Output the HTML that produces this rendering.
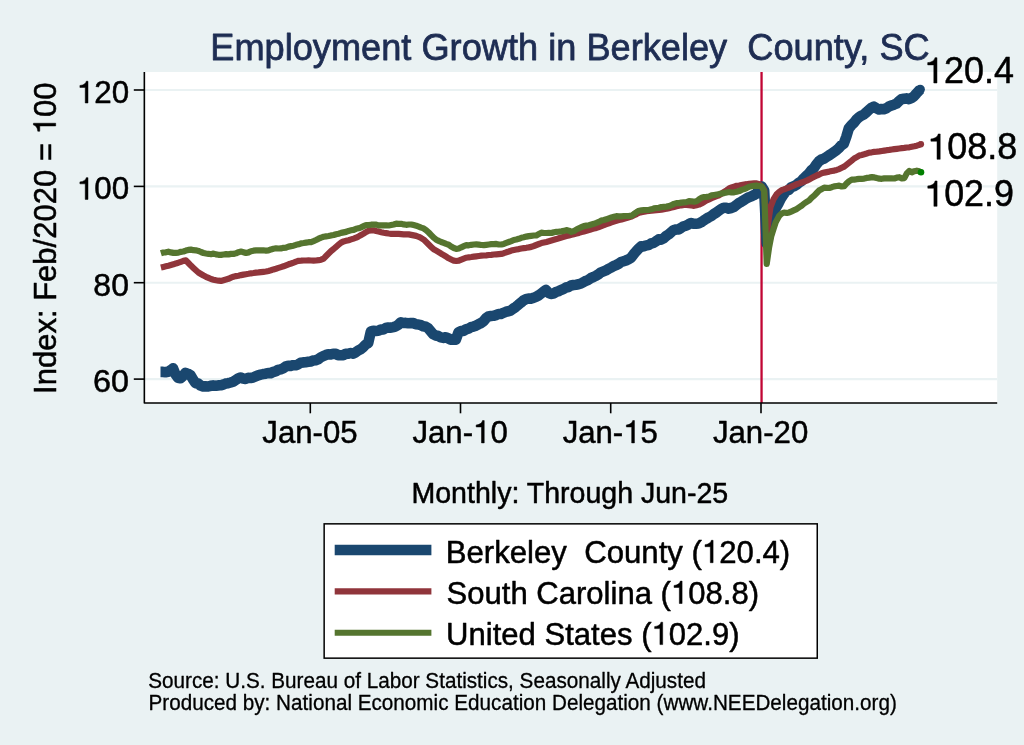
<!DOCTYPE html>
<html><head><meta charset="utf-8"><title>Employment Growth in Berkeley County, SC</title>
<style>
html,body{margin:0;padding:0;background:#eaf2f3;}
svg{display:block;will-change:transform}
text{font-family:"Liberation Sans",sans-serif;fill:#000;stroke:#000;stroke-width:0.5px;stroke-linejoin:round;white-space:pre}
.h{fill:none;stroke:none}
.o{fill:#000;stroke:#000;stroke-width:0.5px;stroke-linejoin:round}
</style></head><body>
<svg width="1024" height="745" viewBox="0 0 1024 745">
<rect x="0" y="0" width="1024" height="745" fill="#eaf2f3"/>
<!-- plot region -->
<rect x="145" y="72" width="852.2" height="331" fill="#ffffff"/>
<!-- gridlines -->
<g stroke="#eaf2f3" stroke-width="2.1">
<line x1="145" x2="997.2" y1="90.0" y2="90.0"/>
<line x1="145" x2="997.2" y1="186.4" y2="186.4"/>
<line x1="145" x2="997.2" y1="282.7" y2="282.7"/>
<line x1="145" x2="997.2" y1="379.1" y2="379.1"/>
</g>
<!-- xline -->
<line x1="761.55" x2="761.55" y1="72" y2="403" stroke="#c10534" stroke-width="2.3"/>
<!-- series -->
<polyline fill="none" stroke="#1a476f" stroke-width="10.6" stroke-linejoin="round" stroke-linecap="butt" points="160.5,371.9 163.0,371.9 165.5,372.3 168.0,371.8 170.5,370.3 173.0,368.3 175.5,374.4 178.0,377.7 180.5,378.2 183.0,376.0 185.5,372.8 188.0,373.8 190.5,375.1 193.0,379.4 195.5,383.2 198.0,383.5 200.5,385.5 203.1,386.4 205.6,386.4 208.1,386.5 210.6,385.8 213.1,385.4 215.6,385.8 218.1,385.4 220.6,385.3 223.1,384.6 225.6,383.6 228.1,383.2 230.6,382.5 233.1,381.7 235.6,380.1 238.1,378.5 240.6,377.6 243.1,378.5 245.6,378.9 248.1,377.9 250.6,378.0 253.1,377.5 255.6,376.4 258.1,375.3 260.6,374.6 263.1,374.1 265.6,373.7 268.1,373.0 270.6,373.3 273.1,372.0 275.6,371.4 278.1,369.9 280.6,369.3 283.1,368.3 285.6,366.6 288.2,365.7 290.7,365.9 293.2,365.2 295.7,365.3 298.2,364.3 300.7,362.8 303.2,362.4 305.7,362.2 308.2,361.8 310.7,361.4 313.2,360.5 315.7,360.2 318.2,359.3 320.7,357.4 323.2,356.1 325.7,355.1 328.2,354.2 330.7,354.5 333.2,353.7 335.7,353.9 338.2,355.1 340.7,355.2 343.2,355.1 345.7,353.9 348.2,353.8 350.7,353.0 353.2,353.7 355.7,352.3 358.2,350.5 360.7,349.3 363.2,347.2 365.7,344.5 368.2,343.1 370.8,331.6 373.3,330.7 375.8,331.0 378.3,330.8 380.8,329.6 383.3,329.5 385.8,328.0 388.3,327.5 390.8,327.7 393.3,327.1 395.8,326.4 398.3,324.8 400.8,322.3 403.3,323.0 405.8,322.9 408.3,323.2 410.8,323.0 413.3,323.1 415.8,324.3 418.3,324.5 420.8,325.2 423.3,326.3 425.8,326.8 428.3,328.3 430.8,331.3 433.3,334.3 435.8,335.5 438.3,336.0 440.8,337.4 443.3,337.9 445.8,337.2 448.3,338.4 450.8,339.6 453.4,339.8 455.9,339.6 458.4,332.4 460.9,331.0 463.4,330.9 465.9,329.4 468.4,328.7 470.9,327.2 473.4,326.6 475.9,325.7 478.4,324.3 480.9,323.1 483.4,321.4 485.9,318.3 488.4,316.4 490.9,316.0 493.4,315.8 495.9,315.1 498.4,314.0 500.9,314.0 503.4,312.8 505.9,311.8 508.4,311.3 510.9,310.4 513.4,308.5 515.9,306.8 518.4,304.7 520.9,302.7 523.4,300.5 525.9,299.2 528.4,298.6 530.9,298.6 533.4,297.9 535.9,296.9 538.5,295.5 541.0,293.6 543.5,291.7 546.0,290.0 548.5,292.8 551.0,293.9 553.5,293.6 556.0,292.0 558.5,291.2 561.0,289.9 563.5,289.0 566.0,287.5 568.5,287.0 571.0,285.5 573.5,285.0 576.0,284.7 578.5,284.3 581.0,283.5 583.5,282.1 586.0,280.8 588.5,279.8 591.0,278.0 593.5,277.0 596.0,275.8 598.5,274.2 601.0,272.3 603.5,271.3 606.0,270.3 608.5,268.9 611.0,267.6 613.5,266.2 616.0,265.1 618.5,263.9 621.1,262.0 623.6,261.2 626.1,260.4 628.6,259.2 631.1,257.7 633.6,254.3 636.1,251.4 638.6,248.7 641.1,246.4 643.6,246.5 646.1,245.4 648.6,245.1 651.1,243.5 653.6,242.9 656.1,241.3 658.6,239.4 661.1,239.6 663.6,238.3 666.1,236.0 668.6,234.4 671.1,232.2 673.6,230.1 676.1,229.5 678.6,229.4 681.1,227.9 683.6,226.3 686.1,225.7 688.6,224.3 691.1,223.0 693.6,223.8 696.1,223.7 698.6,223.5 701.1,222.3 703.7,220.5 706.2,218.9 708.7,217.4 711.2,216.1 713.7,214.1 716.2,212.6 718.7,210.8 721.2,209.0 723.7,207.8 726.2,207.8 728.7,208.6 731.2,208.0 733.7,207.1 736.2,205.1 738.7,203.2 741.2,201.8 743.7,200.2 746.2,198.6 748.7,197.3 751.2,196.3 753.7,195.2 756.2,193.9 759.2,189.5 761.7,186.5 764.2,190.5 766.7,243.5 769.2,233.0 772.2,221.0 775.7,208.0 776.2,207.3 778.7,203.0 781.2,198.0 783.7,194.3 786.3,191.0 788.8,189.9 791.3,187.2 793.8,186.3 796.3,184.9 798.8,182.7 801.3,181.2 803.8,178.3 806.3,176.0 808.8,173.7 811.3,170.3 813.8,168.2 816.3,164.6 818.8,161.4 821.3,159.6 823.8,158.7 826.3,157.1 828.8,155.5 831.3,153.8 833.8,152.1 836.3,150.4 838.8,148.1 841.3,145.4 843.8,143.6 846.3,136.7 848.8,128.4 851.3,125.3 853.8,122.9 856.3,119.7 858.8,117.4 861.3,115.7 863.8,114.5 866.3,112.4 868.8,110.0 871.4,107.8 873.9,106.7 876.4,108.3 878.9,109.5 881.4,109.0 883.9,109.2 886.4,108.3 888.9,106.5 891.4,105.6 893.9,104.7 896.4,103.7 898.9,101.2 901.4,99.3 903.9,98.8 906.4,98.4 908.9,99.1 911.4,98.1 913.9,96.4 916.4,93.5 920.2,89.4"/>
<circle cx="920.2" cy="89.4" r="4.7" fill="#1a476f"/>
<polyline fill="none" stroke="#90353b" stroke-width="6.2" stroke-linejoin="round" stroke-linecap="butt" points="160.9,267.5 163.4,266.9 165.9,266.3 168.4,265.7 170.9,265.0 173.4,264.3 175.9,263.4 178.4,262.7 180.9,261.8 183.4,260.9 185.9,260.4 188.4,263.0 190.9,265.6 193.4,268.0 195.9,270.3 198.4,272.5 200.9,274.0 203.5,275.5 206.0,276.8 208.5,277.9 211.0,279.0 213.5,279.7 216.0,280.3 218.5,280.7 221.0,280.9 223.5,280.2 226.0,279.5 228.5,278.8 231.0,277.7 233.5,276.7 236.0,276.1 238.5,275.7 241.0,275.1 243.5,274.6 246.0,274.2 248.5,273.8 251.0,273.3 253.5,273.0 256.0,272.6 258.5,272.4 261.0,272.1 263.5,271.8 266.0,271.5 268.5,270.9 271.0,270.2 273.5,269.4 276.0,268.7 278.5,267.9 281.0,267.1 283.5,266.3 286.0,265.3 288.6,264.3 291.1,263.5 293.6,262.6 296.1,261.6 298.6,260.8 301.1,260.7 303.6,260.5 306.1,260.5 308.6,260.4 311.1,260.5 313.6,260.6 316.1,260.5 318.6,260.2 321.1,259.7 323.6,258.6 326.1,256.0 328.6,253.5 331.1,251.0 333.6,249.0 336.1,246.8 338.6,244.7 341.1,242.6 343.6,241.4 346.1,240.8 348.6,240.2 351.1,239.4 353.6,238.6 356.1,237.7 358.6,236.4 361.1,235.0 363.6,233.6 366.1,232.0 368.6,230.7 371.2,230.4 373.7,230.3 376.2,231.0 378.7,231.6 381.2,232.2 383.7,232.7 386.2,233.1 388.7,233.5 391.2,233.8 393.7,233.8 396.2,233.9 398.7,233.9 401.2,234.1 403.7,234.3 406.2,234.3 408.7,234.4 411.2,234.9 413.7,235.4 416.2,235.9 418.7,236.8 421.2,238.1 423.7,239.6 426.2,242.0 428.7,244.5 431.2,246.9 433.7,249.2 436.2,250.6 438.7,252.1 441.2,253.7 443.7,255.1 446.2,256.7 448.7,258.3 451.2,259.5 453.8,260.7 456.3,261.0 458.8,260.7 461.3,259.6 463.8,258.6 466.3,257.7 468.8,257.3 471.3,257.0 473.8,256.6 476.3,256.3 478.8,256.0 481.3,255.7 483.8,255.5 486.3,255.3 488.8,255.0 491.3,254.8 493.8,254.5 496.3,254.3 498.8,254.1 501.3,253.9 503.8,253.2 506.3,252.3 508.8,251.5 511.3,250.6 513.8,250.0 516.3,249.5 518.8,249.1 521.3,248.5 523.8,248.1 526.3,247.8 528.8,247.4 531.3,246.9 533.8,246.0 536.3,245.0 538.9,244.0 541.4,243.1 543.9,242.5 546.4,241.9 548.9,241.2 551.4,240.5 553.9,239.8 556.4,239.1 558.9,238.3 561.4,237.5 563.9,236.8 566.4,236.1 568.9,235.5 571.4,234.8 573.9,234.2 576.4,233.6 578.9,232.9 581.4,232.1 583.9,231.4 586.4,230.7 588.9,230.0 591.4,229.2 593.9,228.6 596.4,227.9 598.9,227.0 601.4,226.1 603.9,225.2 606.4,224.2 608.9,223.3 611.4,222.3 613.9,221.5 616.4,220.8 618.9,220.1 621.5,219.5 624.0,218.8 626.5,218.1 629.0,217.3 631.5,216.6 634.0,215.3 636.5,214.1 639.0,212.8 641.5,212.2 644.0,211.8 646.5,211.2 649.0,210.9 651.5,210.6 654.0,210.3 656.5,210.1 659.0,209.9 661.5,209.6 664.0,209.2 666.5,208.8 669.0,208.2 671.5,207.6 674.0,206.9 676.5,206.2 679.0,205.7 681.5,205.3 684.0,205.0 686.5,204.8 689.0,205.1 691.5,205.5 694.0,205.8 696.5,205.2 699.0,204.6 701.5,203.4 704.1,202.0 706.6,200.4 709.1,199.3 711.6,198.2 714.1,197.2 716.6,196.2 719.1,195.3 721.6,193.6 724.1,191.9 726.6,190.3 729.1,188.5 731.6,187.5 734.1,186.6 736.6,185.8 739.1,185.5 741.6,185.0 744.1,184.5 746.6,184.2 749.1,183.8 751.6,183.6 754.1,183.4 756.6,183.4 759.2,184.2 761.7,186.5 764.2,190.0 766.7,234.5 768.6,220.0 770.5,207.1 773.6,199.2 776.6,194.3 779.1,192.0 781.6,190.2 784.1,189.3 786.7,188.3 789.2,187.5 791.7,186.4 794.2,185.3 796.7,184.2 799.2,183.4 801.7,182.5 804.2,181.6 806.7,180.6 809.2,179.4 811.7,178.1 814.2,176.8 816.7,175.5 819.2,174.5 821.7,173.3 824.2,172.6 826.7,172.1 829.2,171.6 831.7,171.0 834.2,170.6 836.7,169.9 839.2,169.1 841.7,167.8 844.2,166.6 846.7,164.6 849.2,162.6 851.7,160.6 854.2,158.5 856.7,157.1 859.2,155.6 861.7,155.0 864.2,154.3 866.7,153.5 869.2,152.6 871.8,152.3 874.3,151.9 876.8,151.7 879.3,151.4 881.8,151.0 884.3,150.6 886.8,150.2 889.3,149.9 891.8,149.5 894.3,149.1 896.8,148.8 899.3,148.5 901.8,148.2 904.3,147.9 906.8,147.5 909.3,147.3 911.8,146.8 914.3,146.3 916.8,145.7 919.3,144.8 921.0,144.2"/>
<circle cx="921.0" cy="144.2" r="3.1" fill="#90353b"/>
<polyline fill="none" stroke="#55752f" stroke-width="6.2" stroke-linejoin="round" stroke-linecap="butt" points="160.9,253.3 163.4,252.5 165.9,252.3 168.4,251.7 170.9,252.4 173.4,252.9 175.9,252.8 178.4,252.6 180.9,251.8 183.4,251.5 185.9,250.6 188.4,249.9 190.9,249.6 193.4,250.2 195.9,250.3 198.4,250.9 200.9,252.0 203.5,253.0 206.0,253.5 208.5,253.8 211.0,254.2 213.5,253.6 216.0,254.4 218.5,254.8 221.0,254.9 223.5,254.5 226.0,254.2 228.5,254.4 231.0,253.9 233.5,253.9 236.0,253.3 238.5,252.2 241.0,251.6 243.5,252.2 246.0,253.0 248.5,252.4 251.0,251.2 253.5,250.7 256.0,250.4 258.5,250.4 261.0,250.3 263.5,250.3 266.0,250.7 268.5,250.4 271.0,249.4 273.5,248.7 276.0,248.3 278.5,248.5 281.0,248.4 283.5,247.8 286.0,247.6 288.6,246.6 291.1,246.1 293.6,245.7 296.1,244.8 298.6,244.3 301.1,243.3 303.6,243.0 306.1,242.6 308.6,242.2 311.1,242.1 313.6,241.1 316.1,240.0 318.6,238.7 321.1,237.6 323.6,236.8 326.1,236.4 328.6,236.0 331.1,235.4 333.6,235.0 336.1,234.2 338.6,233.7 341.1,232.9 343.6,232.4 346.1,231.9 348.6,230.9 351.1,230.3 353.6,229.9 356.1,228.8 358.6,228.3 361.1,227.3 363.6,226.2 366.1,225.1 368.6,225.1 371.2,224.7 373.7,224.5 376.2,224.6 378.7,225.4 381.2,225.3 383.7,225.3 386.2,225.3 388.7,225.5 391.2,225.0 393.7,224.5 396.2,223.7 398.7,223.8 401.2,223.8 403.7,224.4 406.2,224.8 408.7,224.5 411.2,224.5 413.7,225.1 416.2,225.7 418.7,226.6 421.2,227.6 423.7,228.4 426.2,230.2 428.7,232.5 431.2,235.1 433.7,237.7 436.2,239.7 438.7,240.9 441.2,242.0 443.7,242.9 446.2,243.9 448.7,244.7 451.2,246.6 453.8,248.0 456.3,248.9 458.8,248.5 461.3,247.3 463.8,246.2 466.3,245.2 468.8,245.3 471.3,244.8 473.8,244.5 476.3,244.4 478.8,244.6 481.3,245.0 483.8,245.1 486.3,244.8 488.8,244.5 491.3,244.2 493.8,244.1 496.3,243.9 498.8,244.5 501.3,244.5 503.8,243.9 506.3,242.9 508.8,242.0 511.3,241.1 513.8,240.0 516.3,239.5 518.8,238.8 521.3,237.8 523.8,237.3 526.3,236.6 528.8,236.1 531.3,235.8 533.8,235.5 536.3,235.4 538.9,234.0 541.4,232.7 543.9,233.0 546.4,233.0 548.9,232.8 551.4,233.0 553.9,232.2 556.4,231.8 558.9,231.7 561.4,231.4 563.9,230.9 566.4,230.1 568.9,230.7 571.4,231.8 573.9,231.1 576.4,229.5 578.9,228.3 581.4,227.2 583.9,226.1 586.4,225.6 588.9,225.2 591.4,224.5 593.9,223.8 596.4,222.9 598.9,221.9 601.4,220.6 603.9,220.0 606.4,219.3 608.9,218.3 611.4,217.4 613.9,216.8 616.4,216.2 618.9,216.3 621.5,216.4 624.0,216.0 626.5,216.0 629.0,215.9 631.5,215.7 634.0,213.9 636.5,212.2 639.0,210.7 641.5,210.3 644.0,210.0 646.5,210.0 649.0,209.8 651.5,209.3 654.0,208.4 656.5,208.0 659.0,207.8 661.5,207.0 664.0,206.8 666.5,206.6 669.0,206.1 671.5,205.1 674.0,203.9 676.5,203.1 679.0,203.1 681.5,202.6 684.0,202.3 686.5,202.1 689.0,201.2 691.5,201.3 694.0,201.8 696.5,201.2 699.0,199.4 701.5,197.7 704.1,197.0 706.6,196.9 709.1,196.5 711.6,195.4 714.1,195.0 716.6,194.7 719.1,194.1 721.6,193.4 724.1,193.1 726.6,192.5 729.1,192.0 731.6,192.5 734.1,192.3 736.6,191.8 739.1,191.1 741.6,189.9 744.1,189.1 746.6,188.1 749.1,186.8 751.6,186.3 754.1,185.8 756.6,185.7 759.2,186.0 761.7,186.5 764.2,191.0 766.7,264.0 769.0,248.0 771.3,236.0 773.5,229.0 775.7,222.3 776.6,220.6 779.1,216.0 781.6,213.6 784.1,212.5 786.7,213.0 789.2,212.4 791.7,211.3 794.2,210.2 796.7,209.1 799.2,207.3 801.7,205.6 804.2,203.5 806.7,201.9 809.2,200.4 811.7,197.7 814.2,195.6 816.7,193.0 819.2,190.3 821.7,189.2 824.2,187.7 826.7,187.8 829.2,188.0 831.7,187.2 834.2,186.3 836.7,186.0 839.2,185.7 841.7,186.5 844.2,186.2 846.7,183.3 849.2,181.1 851.7,179.7 854.2,179.6 856.7,179.2 859.2,178.9 861.7,178.8 864.2,178.6 866.7,177.9 869.2,177.6 871.8,177.1 874.3,177.4 876.8,178.1 879.3,178.7 881.8,178.8 884.3,178.4 886.8,178.4 889.3,178.3 891.8,178.4 894.3,178.5 896.8,177.6 899.3,177.2 901.8,178.4 904.3,178.1 906.8,173.4 909.3,170.9 911.8,172.3 914.3,171.2 916.8,170.7 919.3,171.3 921.0,172.3"/>
<circle cx="921.0" cy="172.2" r="3.3" fill="#008000"/>
<!-- axes -->
<g stroke="#000" stroke-width="1.6" fill="none" stroke-linejoin="round">
<polyline points="144.35,72 144.35,403.05 997.2,403.05"/>
<line x1="133.8" x2="144.35" y1="90.0" y2="90.0"/>
<line x1="133.8" x2="144.35" y1="186.4" y2="186.4"/>
<line x1="133.8" x2="144.35" y1="282.7" y2="282.7"/>
<line x1="133.8" x2="144.35" y1="379.1" y2="379.1"/>
<line x1="310.3" x2="310.3" y1="403.05" y2="413.3"/>
<line x1="460.5" x2="460.5" y1="403.05" y2="413.3"/>
<line x1="610.7" x2="610.7" y1="403.05" y2="413.3"/>
<line x1="761" x2="761" y1="403.05" y2="413.3"/>
</g>
<!-- legend box -->
<rect x="324.15" y="523.85" width="493.1" height="134.3" fill="#fff" stroke="#000" stroke-width="1.5"/>
<line x1="334.7" x2="431.4" y1="550" y2="550" stroke="#1a476f" stroke-width="10.6"/>
<line x1="334.7" x2="431.4" y1="591.3" y2="591.3" stroke="#90353b" stroke-width="6.2"/>
<line x1="334.7" x2="431.4" y1="632.8" y2="632.8" stroke="#55752f" stroke-width="6.0"/>
<!-- text -->
<g transform="matrix(1.0002,0,0,1.035,210.25,59.80)"><text font-size="36.2" style="fill:#1e2d53;stroke:#1e2d53;stroke-width:0.75px" xml:space="preserve">Employment Growth in Berkeley  County, SC</text></g>
<g transform="matrix(0.9917,0,0,1.0,924.08,83.00)"><text font-size="36.2" xml:space="preserve"><tspan class="h">1</tspan>20.4</text><path class="o" d="M9.81,0.00L13.00,0.00L13.00,-25.34L10.97,-25.34C10.57,-23.17 8.40,-20.74 3.66,-20.38L3.66,-18.10L9.81,-18.10Z"/></g>
<g transform="matrix(0.9947,0,0,1.0,927.27,159.30)"><text font-size="36.2" xml:space="preserve"><tspan class="h">1</tspan>08.8</text><path class="o" d="M9.81,0.00L13.00,0.00L13.00,-25.34L10.97,-25.34C10.57,-23.17 8.40,-20.74 3.66,-20.38L3.66,-18.10L9.81,-18.10Z"/></g>
<g transform="matrix(0.9912,0,0,1.0,924.18,206.30)"><text font-size="36.2" xml:space="preserve"><tspan class="h">1</tspan>02.9</text><path class="o" d="M9.81,0.00L13.00,0.00L13.00,-25.34L10.97,-25.34C10.57,-23.17 8.40,-20.74 3.66,-20.38L3.66,-18.10L9.81,-18.10Z"/></g>
<g transform="matrix(0.9986,0,0,0.99,76.74,103.00)"><text font-size="31.4" xml:space="preserve"><tspan class="h">1</tspan>20</text><path class="o" d="M8.51,0.00L11.27,0.00L11.27,-21.98L9.51,-21.98C9.17,-20.10 7.28,-17.99 3.17,-17.68L3.17,-15.70L8.51,-15.70Z"/></g>
<g transform="matrix(0.9986,0,0,0.99,76.74,199.40)"><text font-size="31.4" xml:space="preserve"><tspan class="h">1</tspan>00</text><path class="o" d="M8.51,0.00L11.27,0.00L11.27,-21.98L9.51,-21.98C9.17,-20.10 7.28,-17.99 3.17,-17.68L3.17,-15.70L8.51,-15.70Z"/></g>
<g transform="matrix(1.0203,0,0,0.99,93.37,295.90)"><text font-size="31.4" xml:space="preserve">80</text></g>
<g transform="matrix(1.0303,0,0,0.99,93.03,392.10)"><text font-size="31.4" xml:space="preserve">60</text></g>
<g transform="matrix(0.9926,0,0,1.015,262.33,442.90)"><text font-size="31.4" xml:space="preserve">Jan-05</text></g>
<g transform="matrix(0.9926,0,0,1.015,412.43,442.90)"><text font-size="31.4" xml:space="preserve">Jan-<tspan class="h">1</tspan>0</text><path class="o" d="M69.57,0.00L72.33,0.00L72.33,-21.98L70.58,-21.98C70.23,-20.10 68.35,-17.99 64.23,-17.68L64.23,-15.70L69.57,-15.70Z"/></g>
<g transform="matrix(0.9926,0,0,1.015,562.63,442.90)"><text font-size="31.4" xml:space="preserve">Jan-<tspan class="h">1</tspan>5</text><path class="o" d="M69.57,0.00L72.33,0.00L72.33,-21.98L70.58,-21.98C70.23,-20.10 68.35,-17.99 64.23,-17.68L64.23,-15.70L69.57,-15.70Z"/></g>
<g transform="matrix(0.9926,0,0,1.015,712.93,442.90)"><text font-size="31.4" xml:space="preserve">Jan-20</text></g>
<g transform="matrix(0.9980,0,0,1.03,411.47,502.80)"><text font-size="28.6" xml:space="preserve">Monthly: Through Jun-25</text></g>
<g transform="matrix(0.9988,0,0,1.025,445.66,562.70)"><text font-size="31.2" xml:space="preserve">Berkeley  County (<tspan class="h">1</tspan>20.4)</text><path class="o" d="M264.99,0.00L267.74,0.00L267.74,-21.84L265.99,-21.84C265.65,-19.97 263.77,-17.88 259.69,-17.57L259.69,-15.60L264.99,-15.60Z"/></g>
<g transform="matrix(0.9960,0,0,1.025,446.50,603.50)"><text font-size="31.2" xml:space="preserve">South Carolina (<tspan class="h">1</tspan>08.8)</text><path class="o" d="M233.78,0.00L236.53,0.00L236.53,-21.84L234.78,-21.84C234.44,-19.97 232.57,-17.88 228.48,-17.57L228.48,-15.60L233.78,-15.60Z"/></g>
<g transform="matrix(0.9963,0,0,1.025,446.06,644.60)"><text font-size="31.2" xml:space="preserve">United States (<tspan class="h">1</tspan>02.9)</text><path class="o" d="M214.68,0.00L217.42,0.00L217.42,-21.84L215.67,-21.84C215.33,-19.97 213.46,-17.88 209.37,-17.57L209.37,-15.60L214.68,-15.60Z"/></g>
<g transform="matrix(1.0000,0,0,1.03,148.21,688.40)"><text font-size="20.7" style="stroke-width:0.3px" xml:space="preserve">Source: U.S. Bureau of Labor Statistics, Seasonally Adjusted</text></g>
<g transform="matrix(0.9993,0,0,1.03,148.50,709.80)"><text font-size="20.7" style="stroke-width:0.3px" xml:space="preserve">Produced by: National Economic Education Delegation (www.NEEDelegation.org)</text></g>
<g transform="matrix(0,-0.9949,1.02,0,55.70,393.99)"><text font-size="31.2" xml:space="preserve">Index: Feb/2020 = <tspan class="h">1</tspan>00</text><path class="o" d="M269.40,0.00L272.14,0.00L272.14,-21.84L270.40,-21.84C270.05,-19.97 268.18,-17.88 264.09,-17.57L264.09,-15.60L269.40,-15.60Z"/></g>
</svg>
</body></html>
